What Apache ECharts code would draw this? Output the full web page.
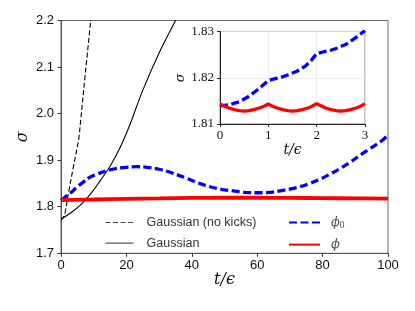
<!DOCTYPE html>
<html>
<head>
<meta charset="utf-8">
<script src="https://cdn.jsdelivr.net/npm/echarts@6/dist/echarts.min.js"></script>
<style>html,body{margin:0;padding:0;background:#fff}#c{width:415px;height:311px}</style>
</head>
<body>
<div id="c"></div>
<script>
// ---- data ----
const gaussNoKicksT = [0, 0.6, 1.2, 2.45, 3.8, 5.4, 6.0, 7.35, 9.08, 10];
const gaussNoKicksS = [1.772, 1.776, 1.786, 1.836, 1.886, 1.945, 1.985, 2.08, 2.2, 2.27];
const gaussT = [0, 3, 6, 9, 12, 15, 18, 21, 25, 30, 35, 38];
const gaussS = [1.773, 1.787, 1.804, 1.827, 1.856, 1.887, 1.926, 1.975, 2.05, 2.13, 2.2, 2.245];
const phi0T = [0, 1, 2, 3, 5, 7, 8.9, 11, 15, 19, 23.2, 27, 30.3, 34, 38.5, 42, 45.6, 49, 52.7, 56, 59.9, 63, 67, 70, 73.1, 76, 79.2, 82, 85.3, 88.5, 91.5, 94.5, 97.6, 100];
const phi0S = [1.8139, 1.8194, 1.8252, 1.8302, 1.843, 1.854, 1.8635, 1.870, 1.879, 1.884, 1.886, 1.884, 1.880, 1.8725, 1.861, 1.851, 1.843, 1.8375, 1.834, 1.831, 1.830, 1.8305, 1.834, 1.838, 1.843, 1.850, 1.859, 1.869, 1.882, 1.896, 1.911, 1.925, 1.939, 1.954];
const phiT = [0, 10, 20, 30, 40, 50, 60, 70, 80, 90, 100];
const phiS = [1.8143, 1.8155, 1.817, 1.818, 1.819, 1.8193, 1.8193, 1.819, 1.8185, 1.818, 1.8175];
// inset data
const insetPhi0T = [0, 0.2, 0.4, 0.6, 0.8, 1.0, 1.1, 1.24, 1.4, 1.59, 1.75, 1.86, 2.0, 2.1, 2.28, 2.45, 2.62, 2.8, 3.0];
const insetPhi0S = [1.8139, 1.8142, 1.8148, 1.8160, 1.8176, 1.8194, 1.8197, 1.8200, 1.8206, 1.8214, 1.8224, 1.8234, 1.8252, 1.8255, 1.8259, 1.8265, 1.8273, 1.8286, 1.8302];
const insetPhiT = [0, 0.1, 0.2, 0.3, 0.4, 0.5, 0.6, 0.7, 0.8, 0.9, 1.0, 1.1, 1.2, 1.3, 1.4, 1.5, 1.6, 1.7, 1.8, 1.9, 2.0, 2.1, 2.2, 2.3, 2.4, 2.5, 2.6, 2.7, 2.8, 2.9, 3.0];
const insetPhiS = [1.8143, 1.8138, 1.8134, 1.8131, 1.8129, 1.8128, 1.8129, 1.8131, 1.8134, 1.8138, 1.8143, 1.8138, 1.8134, 1.8131, 1.8129, 1.8128, 1.8129, 1.8131, 1.8134, 1.8138, 1.8144, 1.8139, 1.8134, 1.8131, 1.8129, 1.8128, 1.8129, 1.8131, 1.8134, 1.8138, 1.8144];
const mainXTicks = {min: 0, max: 100, interval: 20};
const mainYTicks = {min: 1.7, max: 2.2, interval: 0.1};
const insetXTicks = {min: 0, max: 3, interval: 1};
const insetYTicks = {min: 1.81, max: 1.83, interval: 0.01};

const zip = (a, b) => a.map((v, i) => [v, b[i]]);

const sans = 'Liberation Sans';
const serif = 'DejaVu Serif';
const chart = echarts.init(document.getElementById('c'), null, {renderer: 'canvas'});
chart.setOption({
  animation: false,
  backgroundColor: '#fff',
  grid: [
    {left: 61, right: 27, top: 20.5, bottom: 57.7, show: true, borderColor: '#666', borderWidth: 1, backgroundColor: 'transparent'},
    {left: 220, right: 50, top: 31.5, bottom: 187, show: true, borderColor: '#888', borderWidth: 1, backgroundColor: '#fff'}
  ],
  xAxis: [
    {type: 'value', gridIndex: 0, min: mainXTicks.min, max: mainXTicks.max, interval: mainXTicks.interval,
     axisLine: {show: true, onZero: false, lineStyle: {color: '#555', width: 1}},
     axisTick: {show: true, inside: false, length: 3.5, lineStyle: {color: '#333'}},
     axisLabel: {margin: 6, fontFamily: sans, fontSize: 13, color: '#111'},
     splitLine: {show: false},
     name: 't/ϵ', nameLocation: 'middle', nameGap: 19, nameMoveOverlap: false,
     nameTextStyle: {fontFamily: serif, fontStyle: 'italic', fontSize: 16, color: '#111'}},
    {type: 'value', gridIndex: 1, min: insetXTicks.min, max: insetXTicks.max, interval: insetXTicks.interval,
     axisLine: {show: true, onZero: false, lineStyle: {color: '#222', width: 1}},
     axisTick: {show: true, inside: false, length: 3, lineStyle: {color: '#222'}},
     axisLabel: {margin: 5, fontFamily: 'Liberation Serif', fontSize: 13, color: '#111'},
     splitLine: {show: true, lineStyle: {color: '#e8e8e8', width: 0.8}},
     name: 't/ϵ', nameLocation: 'middle', nameGap: 13,
     nameTextStyle: {fontFamily: serif, fontStyle: 'italic', fontSize: 14, color: '#111'}}
  ],
  yAxis: [
    {type: 'value', gridIndex: 0, min: mainYTicks.min, max: mainYTicks.max, interval: mainYTicks.interval,
     axisLine: {show: true, onZero: false, lineStyle: {color: '#555', width: 1}},
     axisTick: {show: true, inside: false, length: 3.5, lineStyle: {color: '#333'}},
     axisLabel: {margin: 7, fontFamily: sans, fontSize: 13, color: '#111', formatter: v => v.toFixed(1)},
     splitLine: {show: false},
     name: 'σ', nameLocation: 'middle', nameGap: 30, nameRotate: 90, nameMoveOverlap: false,
     nameTextStyle: {fontFamily: serif, fontStyle: 'italic', fontSize: 16, color: '#111'}},
    {type: 'value', gridIndex: 1, min: insetYTicks.min, max: insetYTicks.max, interval: insetYTicks.interval,
     axisLine: {show: true, onZero: false, lineStyle: {color: '#222', width: 1}},
     axisTick: {show: true, inside: false, length: 3, lineStyle: {color: '#222'}},
     axisLabel: {margin: 6, fontFamily: 'Liberation Serif', fontSize: 13, color: '#111', formatter: v => v.toFixed(2)},
     splitLine: {show: true, lineStyle: {color: '#e8e8e8', width: 0.8}},
     name: 'σ', nameLocation: 'middle', nameGap: 32, nameRotate: 90,
     nameTextStyle: {fontFamily: serif, fontStyle: 'italic', fontSize: 13, color: '#111'}}
  ],
  legend: [
    {left: 105, top: 216, orient: 'vertical', padding: 0, itemWidth: 28, itemHeight: 14, itemGap: 7.6,
     data: ['Gaussian (no kicks)', 'Gaussian'], itemStyle: {opacity: 0},
     lineStyle: {width: 1.1, color: '#444'},
     textStyle: {fontFamily: sans, fontSize: 12.5, color: '#333', padding: [0, 0, 0, 8]}},
    {left: 288, top: 216, orient: 'vertical', padding: 0, itemWidth: 31, itemHeight: 14, itemGap: 7.6,
     data: ['φ0', 'φ'], itemStyle: {opacity: 0},
     formatter: n => n === 'φ0' ? '{i|ϕ}{s|0}' : '{i|ϕ}',
     textStyle: {color: '#555', padding: [0, 0, 0, 6],
       rich: {i: {fontFamily: serif, fontStyle: 'italic', fontSize: 13, color: '#555'},
              s: {fontFamily: 'Liberation Serif', fontSize: 9.5, color: '#555', verticalAlign: 'bottom', padding: [6, 0, 0, 0]}}}}
  ],
  series: [
    {name: 'Gaussian (no kicks)', type: 'line', xAxisIndex: 0, yAxisIndex: 0, data: zip(gaussNoKicksT, gaussNoKicksS),
     symbol: 'none', smooth: 0.4, clip: true,
     lineStyle: {color: '#000', width: 1.1, type: [5, 2.5]}, itemStyle: {color: '#000'}},
    {name: 'Gaussian', type: 'line', xAxisIndex: 0, yAxisIndex: 0, data: zip(gaussT, gaussS),
     symbol: 'none', smooth: 0.4, clip: true,
     lineStyle: {color: '#000', width: 1.1}, itemStyle: {color: '#000'}},
    {name: 'φ0', type: 'line', xAxisIndex: 0, yAxisIndex: 0, data: zip(phi0T, phi0S),
     symbol: 'none', smooth: 0.4, clip: true,
     lineStyle: {color: '#0000ff', width: 3.3, type: [8, 3.5], cap: 'butt'}, itemStyle: {color: '#0000ff'}},
    {name: 'φ', type: 'line', xAxisIndex: 0, yAxisIndex: 0, data: zip(phiT, phiS),
     symbol: 'none', smooth: 0.4, clip: true,
     lineStyle: {color: '#ff0000', width: 3.8}, itemStyle: {color: '#ff0000'}},
    {name: 'inset φ0', type: 'line', xAxisIndex: 1, yAxisIndex: 1, data: zip(insetPhi0T, insetPhi0S),
     symbol: 'none', smooth: false, clip: true,
     lineStyle: {color: '#0000ff', width: 3.3, type: [8, 3.5], cap: 'butt'}},
    {name: 'inset φ', type: 'line', xAxisIndex: 1, yAxisIndex: 1, data: zip(insetPhiT, insetPhiS),
     symbol: 'none', smooth: false, clip: true,
     lineStyle: {color: '#ff0000', width: 3.3}}
  ]
});
</script>
</body>
</html>
